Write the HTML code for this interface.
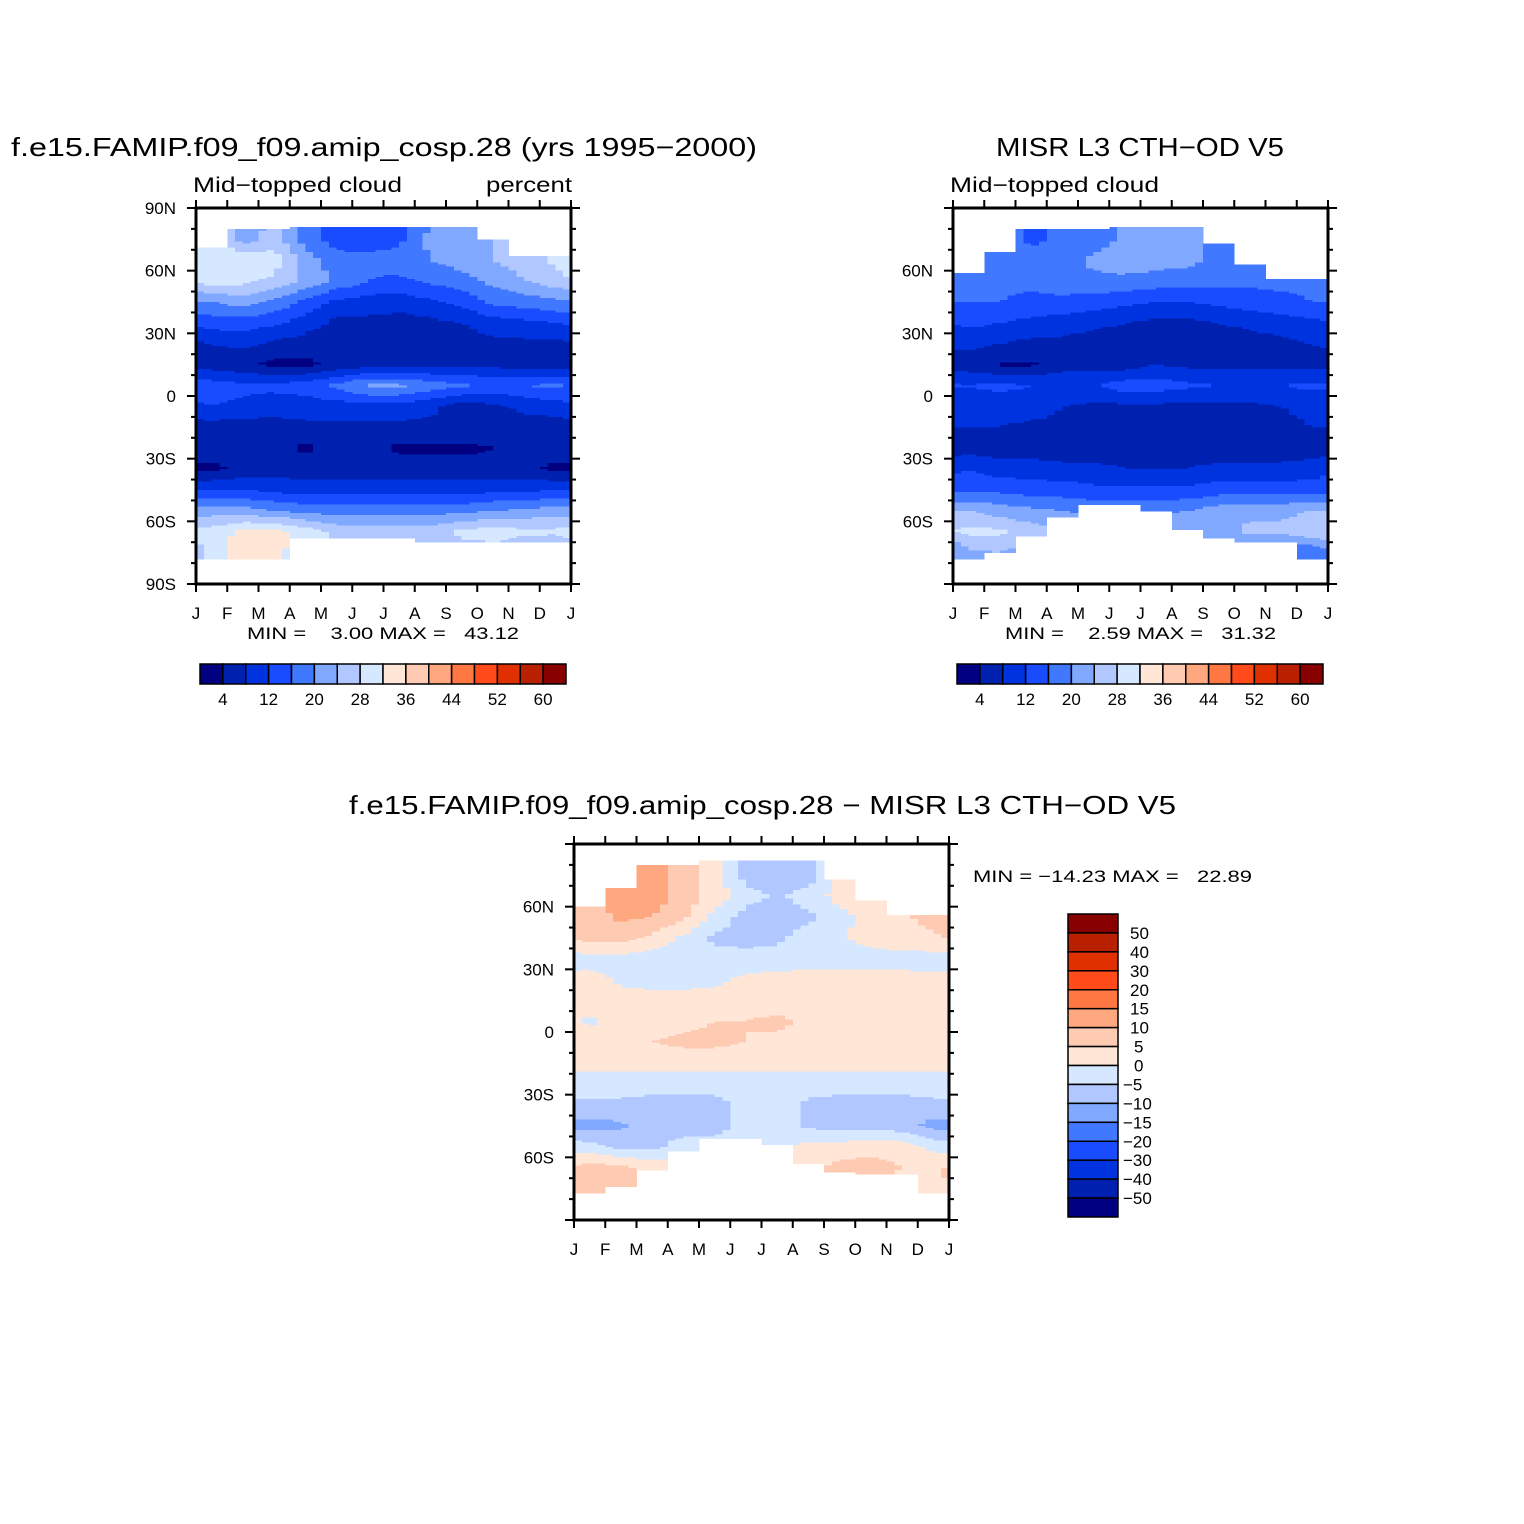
<!DOCTYPE html>
<html><head><meta charset="utf-8"><style>
html,body{margin:0;padding:0;background:#fff;}
svg{display:block;font-family:"Liberation Sans",sans-serif;}
</style></head><body>
<svg id="fig" width="1524" height="1524" viewBox="0 0 1524 1524" xmlns="http://www.w3.org/2000/svg" xml:space="preserve">
<rect width="1524" height="1524" fill="#fff"/>
<g id="p1"></g>
<g id="p2"></g>
<g id="p3"></g>
<text x="11" y="156" font-size="26" textLength="746" lengthAdjust="spacingAndGlyphs">f.e15.FAMIP.f09_f09.amip_cosp.28 (yrs 1995−2000)</text>
<text x="193" y="192" font-size="21" textLength="209" lengthAdjust="spacingAndGlyphs">Mid−topped cloud</text>
<text x="486" y="192" font-size="21" textLength="86" lengthAdjust="spacingAndGlyphs">percent</text>
<text x="247" y="639" font-size="17" textLength="272" lengthAdjust="spacingAndGlyphs" style="white-space:pre">MIN =    3.00 MAX =   43.12</text>
<text x="996" y="156" font-size="26" textLength="288" lengthAdjust="spacingAndGlyphs">MISR L3 CTH−OD V5</text>
<text x="950" y="192" font-size="21" textLength="209" lengthAdjust="spacingAndGlyphs">Mid−topped cloud</text>
<text x="1005" y="639" font-size="17" textLength="271" lengthAdjust="spacingAndGlyphs" style="white-space:pre">MIN =    2.59 MAX =   31.32</text>
<text x="349" y="814" font-size="26" textLength="827" lengthAdjust="spacingAndGlyphs">f.e15.FAMIP.f09_f09.amip_cosp.28 − MISR L3 CTH−OD V5</text>
<text x="973" y="882" font-size="17" textLength="279" lengthAdjust="spacingAndGlyphs" style="white-space:pre">MIN = −14.23 MAX =   22.89</text>
<g id="cb"></g>
</svg>
<script>
const palette=['#000080','#0020b0','#0033e0','#1a4cff','#4078ff','#80a8ff','#b0c8ff','#d6e8ff','#ffe6d6','#ffcab2','#ffa880','#ff7844','#ff4a1a','#e03000','#b82000','#880000'];
const absLevels=[4,8,12,16,20,24,28,32,36,40,44,48,52,56,60];
const diffLevels=[-50,-40,-30,-20,-15,-10,-5,0,5,10,15,20,30,40,50];
const monthLabels=['J','F','M','A','M','J','J','A','S','O','N','D','J'];
const latRows=[85,75,65,55,45,35,25,15,5,-5,-15,-25,-35,-45,-55,-65,-75,-85];
const modelVals=[
[30,22,24,18,14,14,14,20,22,24,26,26],
[30,22,26,18,14,14,15,21,22,24,26,26],
[32,32,30,22,18,17,18,20,22,24,26,29],
[30,29,27,23,19,16,15,17,18,21,24,26],
[20,22,19,15,11,10,10,11,13,17,18,19],
[14,14,13,10,7,7,6,7,8,10,11,12],
[8,9,7,6,6,6,6,6,6,7,7,7],
[6,5,3,3,5,6,6,7,7,7,6,6],
[14,13,13,14,17,21,21,18,17,15,16,17],
[12,11,10,10,10,10,10,9,6,7,9,10],
[6,6,6,7,7,7,7,7,7,6,6,6],
[6,6,6,3,6,6,3,3,3,4,5,6],
[3,5,6,6,6,6,6,6,6,5,5,3],
[12,12,11,10,10,10,10,10,10,11,11,12],
[22,22,20,19,18,18,18,18,19,20,21,22],
[30,33,34,30,27,26,26,26,29,30,29,29],
[30,34,33,30,28,28,28,26,26,26,24,22],
[30,34,33,30,28,28,28,26,26,26,24,22]];
const modelTop=[71,79.5,79.5,81,81,81,81,81,81,74.7,66.5,66.5];
const modelBot=[-78,-78,-78,-68,-68,-68,-68,-70,-70,-70,-70,-70];
const obsVals=[
[18,18,15,17,18,21,22,22,18,18,18,18],
[18,18,15,17,18,21,22,22,18,18,18,18],
[18,18,18,18,21,22,22,21,19,18,18,18],
[17,17,17,18,19,19,18,18,17,17,17,17],
[16,16,15,15,14,13,12,12,13,14,15,16],
[13,12,11,10,9,8,7,7,8,9,10,11],
[9,8,7,7,6,6,6,6,6,6,7,8],
[6,3.5,3.5,6,6,6,8,7,7,7,7,7],
[12,13,12,12,12,14,14,13,12,12,12,13],
[10,10,10,8,7,7,7,7,7,7,8,9],
[8,8,7,7,6,6,6,6,6,6,7,8],
[6,6,6,6,6,6,6,6,6,6,6,6],
[12,10,10,9,9,8,8,8,9,9,9,10],
[15,15,14,14,13,13,13,13,14,14,14,14],
[24,22,21,20,19,19,19,20,22,23,23,24],
[29,29,26,24,22,22,22,23,22,25,25,27],
[23,24,22,22,22,22,22,22,20,18,17,16],
[23,24,22,22,22,22,22,22,20,18,17,16]];
const obsTop=[59,68.5,79.5,79.5,79.5,81,81,81,73,63,55.5,55.5];
const obsBot=[-77.6,-75.4,-67.3,-57.8,-52.2,-52.2,-55.4,-64,-68,-69.6,-69.6,-77.6];
const diffVals=[
[8,10,12,8,2,-7,-7,-8,3,3,3,3],
[8,10,12,8,2,-7,-7,-8,3,3,3,3],
[8,12,13,8,3,-3,-6,-3,2,3,3,3],
[8,11,10,6,-2,-7,-7,-6,-2,3,4,7],
[7,7,4,-1,-6,-7,-6,-3,-1,2,3,4],
[-2,-2,-3,-3,-3,-3,-3,-2,-2,-2,-2,-2],
[2,-1,-2,-2,-1,1,2,2,2,2,2,1],
[2,2,2,2,2,3,3,2,2,2,2,2],
[-1,2,3,4,5,5,6,4,3,3,3,3],
[3,3,5,6,6,5,4,3,3,3,3,3],
[2,2,2,2,2,2,2,2,2,2,2,2],
[-3,-3,-3,-3,-3,-3,-3,-3,-3,-3,-3,-3],
[-6,-6,-7,-7,-7,-3,-3,-6,-7,-7,-7,-6],
[-12,-11,-8,-7,-7,-3,-3,-6,-7,-7,-8,-12],
[-3,-6,-6,-3,-3,-2,-2,2,2,3,3,-2],
[7,6,4,3,3,3,3,3,7,7,5,4],
[8,8,6,4,4,4,4,4,4,4,3,3],
[8,8,6,4,4,4,4,4,4,4,3,3]];
const diffTop=[60,69,80,80,81.5,81.5,81.5,81.5,72.8,63,55.5,55.5];
const diffBot=[-77,-73.5,-65.5,-56.7,-50.5,-50.5,-53.5,-62.5,-67,-68,-68,-77];

const NS='http://www.w3.org/2000/svg';
function mk(tag,attrs,parent){const e=document.createElementNS(NS,tag);for(const k in attrs)e.setAttribute(k,attrs[k]);parent.appendChild(e);return e;}
function levelIndex(v,levels){let i=0;while(i<levels.length&&v>=levels[i])i++;return i;}
function sample(vals,t,lat){
  let u=t-0.5;let i0=Math.floor(u);let f=u-i0;
  const a=((i0%12)+12)%12,b=(a+1)%12;
  let rp=(85-lat)/10;rp=Math.max(0,Math.min(17,rp));
  let j0=Math.min(16,Math.floor(rp));let g=rp-j0;
  const v00=vals[j0][a],v01=vals[j0][b],v10=vals[j0+1][a],v11=vals[j0+1][b];
  return (v00*(1-f)+v01*f)*(1-g)+(v10*(1-f)+v11*f)*g;
}
function panel(gid,vals,top,bot,levels,x0,y0,latLabels){
  const g=document.getElementById(gid);
  const W=375,H=376,mw=W/12,ppd=H/180;
  const field=mk('g',{'shape-rendering':'crispEdges'},g);
  
  
  const SUB=4,NC=12*SUB;
  for(let r=0;r<180;r++){
    const lat=90-r-0.5;
    let runStart=-1,runCol=-1;
    const flush=(endC)=>{ if(runStart>=0&&runCol>=0){
      const rc=mk('rect',{x:(x0+runStart*mw/SUB).toFixed(2),y:(y0+r*ppd).toFixed(2),width:((endC-runStart)*mw/SUB+0.4).toFixed(2),height:(ppd+0.4).toFixed(2),fill:palette[runCol]},field);
      
      
    } };
    for(let c=0;c<=NC;c++){
      let col=-1;
      if(c<NC){const m=Math.floor(c/SUB);
        if(lat<=top[m]&&lat>=bot[m]){col=levelIndex(sample(vals,(c+0.5)/SUB,lat),levels);} }
      if(col!==runCol||c===NC){flush(c);runStart=c;runCol=col;}
    }
  }
  const ax=mk('g',{stroke:'#000','stroke-width':2,fill:'none'},g);
  
  
  for(let lat=-90;lat<=90;lat+=10){
    const y=y0+(90-lat)*ppd;const L=(lat%30===0)?9:5;
    mk('line',{x1:x0-L,y1:y,x2:x0,y2:y},ax);
    mk('line',{x1:x0+W,y1:y,x2:x0+W+L,y2:y},ax);
  }
  for(let m=0;m<=12;m++){
    const x=x0+m*mw;
    mk('line',{x1:x,y1:y0-8,x2:x,y2:y0},ax);
    mk('line',{x1:x,y1:y0+H,x2:x,y2:y0+H+8},ax);
    const t=mk('text',{x:x,y:y0+H+35,'font-size':17,'text-anchor':'middle',fill:'#000'},g);
    t.textContent=monthLabels[m];
    
    
  }
  mk('rect',{x:x0,y:y0,width:W,height:H,'stroke-width':3},ax);
  latLabels.forEach(([lat,txt])=>{
    const t=mk('text',{x:x0-20,y:y0+(90-lat)*ppd+6,'font-size':17,'text-anchor':'end',fill:'#000'},g);
    t.textContent=txt;
    
    
  });
}
const full=[[90,'90N'],[60,'60N'],[30,'30N'],[0,'0'],[-30,'30S'],[-60,'60S'],[-90,'90S']];
const part=[[60,'60N'],[30,'30N'],[0,'0'],[-30,'30S'],[-60,'60S']];
panel('p1',modelVals,modelTop,modelBot,absLevels,196,208,full);
panel('p2',obsVals,obsTop,obsBot,absLevels,953,208,part);
panel('p3',diffVals,diffTop,diffBot,diffLevels,574,844,part);

const cb=document.getElementById('cb');
function hbar(x0,name){
  const g=mk('g',{},cb);
  
  
  const w=366/16;
  palette.forEach((c,i)=>{const r=mk('rect',{x:x0+i*w,y:664,width:w,height:20,fill:c,stroke:'#000','stroke-width':1.5},g);
    
    });
  absLevels.forEach((v,i)=>{ if(i%2===0){const t=mk('text',{x:x0+(i+1)*w,y:705,'font-size':17,'text-anchor':'middle'},g);t.textContent=v;
    
    }});
}
hbar(200,'model-colorbar');
hbar(957,'obs-colorbar');
(function(){
  const g=mk('g',{},cb);
  
  
  const h=(1217-914)/16;
  for(let i=0;i<16;i++){const r=mk('rect',{x:1068,y:914+i*h,width:50,height:h,fill:palette[15-i],stroke:'#000','stroke-width':1.5},g);
    
    }
  for(let i=0;i<15;i++){const v=diffLevels[14-i];
    const txt=v<0?'−'+(-v):String(v);
    const x=v<0?1123:(v<10?1134:1130);
    const t=mk('text',{x:x,y:914+(i+1)*h+6,'font-size':17},g);t.textContent=txt;
    
    }
})();
</script>
</body></html>
